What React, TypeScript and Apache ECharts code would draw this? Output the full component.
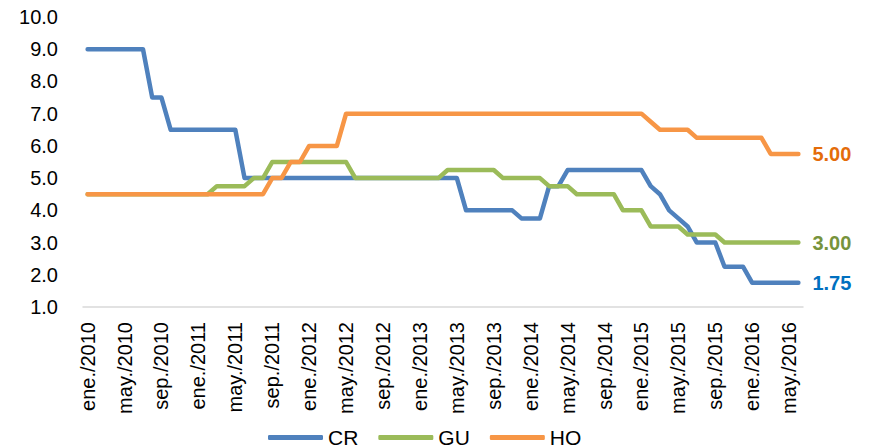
import React, { useEffect, useRef } from "react";
import * as echarts from "echarts";

const monthNames = ["ene.", "feb.", "mar.", "abr.", "may.", "jun.", "jul.", "ago.", "sep.", "oct.", "nov.", "dic."];
const years = [2010, 2011, 2012, 2013, 2014, 2015, 2016];
const lastMonthIndex2016 = 5; // jun./2016

const categories: string[] = [];
years.forEach((y) => {
  monthNames.forEach((m, i) => {
    if (y < 2016 || i <= lastMonthIndex2016) categories.push(`${m}/${y}`);
  });
});

const seriesNames = ["CR", "GU", "HO"];

const CR = [
  9, 9, 9, 9, 9, 9, 9,
  7.5, 7.5,
  6.5, 6.5, 6.5, 6.5, 6.5, 6.5, 6.5, 6.5,
  5, 5, 5, 5, 5, 5, 5, 5, 5, 5, 5, 5, 5, 5, 5, 5, 5, 5, 5, 5, 5, 5, 5, 5,
  4, 4, 4, 4, 4, 4,
  3.75, 3.75, 3.75,
  4.75, 4.75,
  5.25, 5.25, 5.25, 5.25, 5.25, 5.25, 5.25, 5.25, 5.25,
  4.75, 4.5, 4, 3.75, 3.5,
  3, 3, 3,
  2.25, 2.25, 2.25,
  1.75, 1.75, 1.75, 1.75, 1.75, 1.75,
];

const GU = [
  4.5, 4.5, 4.5, 4.5, 4.5, 4.5, 4.5, 4.5, 4.5, 4.5, 4.5, 4.5, 4.5, 4.5,
  4.75, 4.75, 4.75, 4.75,
  5, 5,
  5.5, 5.5, 5.5, 5.5, 5.5, 5.5, 5.5, 5.5, 5.5,
  5, 5, 5, 5, 5, 5, 5, 5, 5, 5,
  5.25, 5.25, 5.25, 5.25, 5.25, 5.25,
  5, 5, 5, 5, 5,
  4.75, 4.75, 4.75,
  4.5, 4.5, 4.5, 4.5, 4.5,
  4, 4, 4,
  3.5, 3.5, 3.5, 3.5,
  3.25, 3.25, 3.25, 3.25,
  3, 3, 3, 3, 3, 3, 3, 3, 3,
];

const HO = [
  4.5, 4.5, 4.5, 4.5, 4.5, 4.5, 4.5, 4.5, 4.5, 4.5, 4.5, 4.5, 4.5, 4.5, 4.5, 4.5, 4.5, 4.5, 4.5, 4.5,
  5, 5,
  5.5, 5.5,
  6, 6, 6, 6,
  7, 7, 7, 7, 7, 7, 7, 7, 7, 7, 7, 7, 7, 7, 7, 7, 7, 7, 7, 7, 7, 7, 7, 7, 7, 7, 7, 7, 7, 7, 7, 7, 7,
  6.75,
  6.5, 6.5, 6.5, 6.5,
  6.25, 6.25, 6.25, 6.25, 6.25, 6.25, 6.25, 6.25,
  5.75, 5.75, 5.75, 5.75,
];

const endLabels = ["1.75", "3.00", "5.00"];
const yMin = 1;
const yMax = 10;
const yStep = 1;

const lineColors = ["#4F81BD", "#9BBB59", "#F79646"];
const labelColors = ["#0070C0", "#77933C", "#E46C0A"];

const FONT = "'Liberation Sans', Arial, sans-serif";

export default function App() {
  const ref = useRef<HTMLDivElement>(null);

  useEffect(() => {
    if (!ref.current) return;
    const chart = echarts.init(ref.current, null, { renderer: "svg" });
    const datasets = [CR, GU, HO];
    chart.setOption({
      animation: false,
      backgroundColor: "#ffffff",
      textStyle: { fontFamily: FONT },
      grid: { left: 83, right: 68, top: 17, bottom: 141, containLabel: false },
      legend: {
        data: seriesNames,
        left: 268,
        top: 427,
        padding: 0,
        itemWidth: 55,
        itemHeight: 5,
        itemGap: 20,
        icon: "roundRect",
        textStyle: { fontSize: 21, lineHeight: 20, color: "#000", fontFamily: FONT },
      },
      xAxis: {
        type: "category",
        data: categories,
        boundaryGap: true,
        axisLine: { show: true, lineStyle: { color: "#D9D9D9", width: 1.5 } },
        axisTick: { show: false },
        axisLabel: {
          interval: 3,
          rotate: 90,
          margin: 15,
          fontSize: 20,
          color: "#000",
          fontFamily: FONT,
        },
        splitLine: { show: false },
      },
      yAxis: {
        type: "value",
        min: yMin,
        max: yMax,
        interval: yStep,
        axisLine: { show: false },
        axisTick: { show: false },
        splitLine: { show: false },
        axisLabel: {
          margin: 25,
          fontSize: 20,
          color: "#000",
          fontFamily: FONT,
          formatter: (v: number) => v.toFixed(1),
        },
      },
      series: seriesNames.map((name, i) => ({
        name,
        type: "line",
        data: datasets[i],
        symbol: "none",
        showSymbol: false,
        color: lineColors[i],
        lineStyle: { width: 4.5, color: lineColors[i], cap: "round", join: "round" },
        endLabel: {
          show: true,
          formatter: () => endLabels[i],
          color: labelColors[i],
          fontWeight: "bold",
          fontSize: 20,
          fontFamily: FONT,
          distance: 14,
        },
        z: 2 + i,
      })),
    });
    return () => chart.dispose();
  }, []);

  return (
    <div
      ref={ref}
      style={{ position: "fixed", left: 0, top: 0, width: 871, height: 448, background: "#fff" }}
    />
  );
}
